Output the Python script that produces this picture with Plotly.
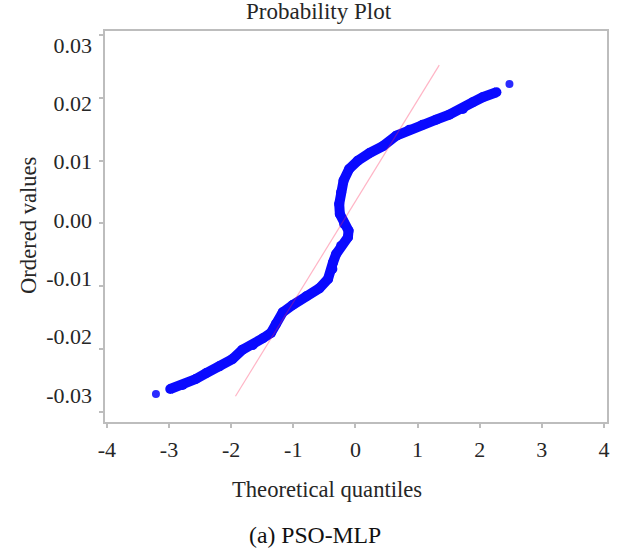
import plotly.graph_objects as go

# Ordered residuals against theoretical normal quantiles (PSO-MLP)
band_q = [-2.98, -2.78, -2.57, -2.40, -2.19, -1.98, -1.82, -1.65, -1.49, -1.36,
          -1.28, -1.17, -1.01, -0.79, -0.58, -0.44, -0.37, -0.36, -0.31, -0.23,
          -0.12, -0.11, -0.18, -0.25, -0.26, -0.23, -0.19, -0.10, 0.04, 0.23,
          0.44, 0.66, 0.87, 1.08, 1.30, 1.51, 1.73, 1.89, 2.05, 2.27]
band_v = [-0.02635, -0.02572, -0.02476, -0.02381, -0.02274, -0.02158, -0.02010,
          -0.01935, -0.01828, -0.01744, -0.01600, -0.01414, -0.01298, -0.01159,
          -0.01032, -0.00884, -0.00725, -0.00620, -0.00486, -0.00354, -0.00220,
          -0.00115, -0.00008, 0.00151, 0.00311, 0.00497, 0.00682, 0.00868,
          0.01000, 0.01123, 0.01229, 0.01398, 0.01494, 0.01573, 0.01653,
          0.01732, 0.01823, 0.01930, 0.02010, 0.02089]

# Extreme observations at both tails
tail_q = [-3.21, 2.48]
tail_v = [-0.02715, 0.02221]

# Least-squares reference line endpoints
fit_q = [-1.93, 1.35]
fit_v = [-0.0275, 0.0252]

x_ticks = [-4, -3, -2, -1, 0, 1, 2, 3, 4]
y_ticks = [-0.03, -0.02, -0.01, 0.00, 0.01, 0.02, 0.03]
y_tick_text = ["-0.03", "-0.02", "-0.01", "0.00", "0.01", "0.02", "0.03"]

FONT = "Liberation Serif"
INK = "#262626"
FRAME = "#bdbdbd"

fig = go.Figure()
fig.add_trace(go.Scatter(
    x=band_q, y=band_v, mode="lines+markers",
    line=dict(color="#0a0aff", width=10),
    marker=dict(color="#0a0aff", size=10),
    hoverinfo="skip", showlegend=False,
))
fig.add_trace(go.Scatter(
    x=tail_q, y=tail_v, mode="markers",
    marker=dict(color="#2a2aff", size=8),
    hoverinfo="skip", showlegend=False,
))
fig.add_trace(go.Scatter(
    x=fit_q, y=fit_v, mode="lines",
    line=dict(color="rgba(255,40,90,0.35)", width=1.2),
    hoverinfo="skip", showlegend=False,
))
# Empty trace so the label axis is laid out
fig.add_trace(go.Scatter(
    x=[], y=[], yaxis="y2", mode="markers",
    hoverinfo="skip", showlegend=False,
))

fig.update_layout(
    width=623, height=555,
    margin=dict(l=105, r=16, t=31, b=133),
    paper_bgcolor="white", plot_bgcolor="white",
    font=dict(family=FONT, color=INK),
    xaxis=dict(
        range=[-4.03, 4.05], tickvals=x_ticks,
        ticktext=[str(v) for v in x_ticks],
        ticks="outside", ticklen=4, tickcolor=FRAME, tickwidth=1.5,
        showline=True, linecolor=FRAME, linewidth=1.5, mirror=True,
        showgrid=False, zeroline=False,
        tickfont=dict(size=22, family=FONT, color=INK),
        ticklabelstandoff=3,
    ),
    yaxis=dict(
        range=[-0.0316, 0.03064], tickvals=y_ticks,
        showticklabels=False,
        ticks="outside", ticklen=4, tickcolor=FRAME, tickwidth=1.5,
        showline=True, linecolor=FRAME, linewidth=1.5, mirror=True,
        showgrid=False, zeroline=False,
    ),
    yaxis2=dict(
        overlaying="y", side="left", anchor="x",
        range=[-0.03463, 0.0324], tickvals=y_ticks, ticktext=y_tick_text,
        ticks="", showline=False, showgrid=False, zeroline=False,
        tickfont=dict(size=22, family=FONT, color=INK),
        ticklabelstandoff=12,
    ),
    annotations=[
        dict(text="Probability Plot", xref="paper", yref="paper",
             x=0.4253, y=1.0486, xanchor="center", yanchor="middle",
             showarrow=False, font=dict(size=23, family=FONT, color=INK)),
        dict(text="Theoretical quantiles", xref="paper", yref="paper",
             x=0.442, y=-0.1739, xanchor="center", yanchor="middle",
             showarrow=False, font=dict(size=22.6, family=FONT, color=INK)),
        dict(text="Ordered values", xref="paper", yref="paper",
             x=-0.1534, y=0.5038, xanchor="center", yanchor="middle",
             textangle=-90,
             showarrow=False, font=dict(size=22.6, family=FONT, color=INK)),
        dict(text="(a) PSO-MLP", xref="paper", yref="paper",
             x=0.418, y=-0.289, xanchor="center", yanchor="middle",
             showarrow=False, font=dict(size=23.7, family=FONT, color="#111111")),
    ],
)

fig.write_html("out.html")
